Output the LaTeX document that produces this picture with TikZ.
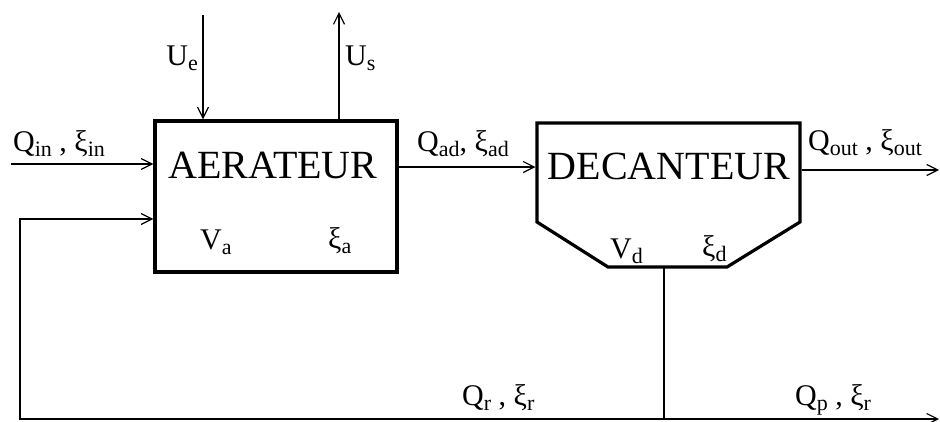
\documentclass[tikz,border=0pt]{standalone}
\usepackage{fontspec}
\setmainfont{Liberation Serif}
\usetikzlibrary{arrows.meta}
\newcommand{\lowidx}[1]{\raisebox{-5pt}{\fontsize{22}{22}\selectfont #1}}

\begin{document}
\begin{tikzpicture}[x=1pt, y=-1pt,
	flow/.style={line width=1.2pt, -{Straight Barb[length=11pt, width=11pt, line width=1.2pt]}},
	wire/.style={line width=1.2pt},
	unit/.style={line width=3.2pt, line join=miter},
	lbl/.style={font=\fontsize{30}{30}\selectfont, inner sep=0pt, anchor=base west},
	title/.style={font=\fontsize{40}{40}\selectfont, inner sep=0pt}]
	\useasboundingbox (0, 0) rectangle (940, 421);
	% Paths, nodes and wires:
	\node[unit, draw, minimum width=242pt, minimum height=151pt, inner sep=0pt] (aer) at (276, 196.5){} node[title] (aertxt) at (273, 165){AERATEUR};
	\draw[unit] (537, 123) -- (800, 123) -- (800, 222) -- (727, 267) -- (608, 267) -- (537, 222) -- cycle;
	\node[title] (dectxt) at (669, 166){DECANTEUR};
	\coordinate (decin) at (535.5, 167);
	\coordinate (decout) at (801.5, 170);
	\coordinate (decbot) at (664, 268);
	\coordinate (ue) at (203, 15);
	\coordinate (us) at (339, 12);
	\coordinate (qin) at (11, 164);
	\coordinate (qout) at (939, 170);
	\coordinate (split) at (664, 419);
	\coordinate (qp) at (939, 419);
	\coordinate (rec) at (20, 419);
	\coordinate (recin) at (20, 219);
	\draw[flow] (ue) -- (ue |- aer.north);
	\draw[flow] (us |- aer.north) -- (us);
	\draw[flow] (qin) -- (qin -| aer.west);
	\draw[flow] (aer.east |- decin) -- (decin);
	\draw[flow] (decout) -- (qout);
	\draw[wire] (decbot) -- (split);
	\draw[flow] (split) -- (qp);
	\draw[flow] (split) -- (rec) -- (recin) -- (recin -| aer.west);
	\node[lbl, anchor=base east] (uel) at (198, 65){U\lowidx{e}};
	\node[lbl] (usl) at (345, 65){U\lowidx{s}};
	\node[lbl] (qinl) at (13, 151){Q\lowidx{in} , ξ\lowidx{in}};
	\node[lbl] (qadl) at (417, 151){Q\lowidx{ad}, ξ\lowidx{ad}};
	\node[lbl] (qoutl) at (808, 150){Q\lowidx{out} , ξ\lowidx{out}};
	\node[lbl] (val) at (200, 249){V\lowidx{a}};
	\node[lbl] (xal) at (328, 248){ξ\lowidx{a}};
	\node[lbl] (vdl) at (610, 258){V\lowidx{d}};
	\node[lbl] (xdl) at (702, 256){ξ\lowidx{d}};
	\node[lbl] (qrl) at (462, 405){Q\lowidx{r} , ξ\lowidx{r}};
	\node[lbl] (qpl) at (795, 405){Q\lowidx{p} , ξ\lowidx{r}};
\end{tikzpicture}
\end{document}
